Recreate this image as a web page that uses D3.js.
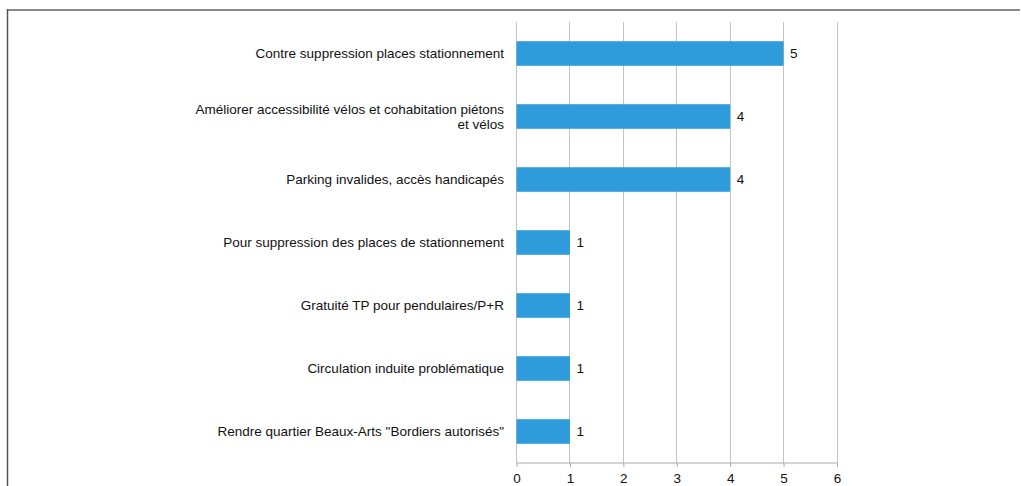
<!DOCTYPE html>
<html>
<head>
<meta charset="utf-8">
<script src="https://cdn.jsdelivr.net/npm/d3@7"></script>
<style>
  html, body { margin: 0; padding: 0; background: #fff; }
  svg { display: block; font-family: "Liberation Sans", Arial, sans-serif; }
</style>
</head>
<body>
<svg id="chart" width="1021" height="486"></svg>
<script>
// Remarks grouped by theme, with the number of mentions
const categories = [
  "Contre suppression places stationnement",
  "Améliorer accessibilité vélos et cohabitation piétons et vélos",
  "Parking invalides, accès handicapés",
  "Pour suppression des places de stationnement",
  "Gratuité TP pour pendulaires/P+R",
  "Circulation induite problématique",
  "Rendre quartier Beaux-Arts \"Bordiers autorisés\""
];
const counts = [5, 4, 4, 1, 1, 1, 1];
const xTicks = [0, 1, 2, 3, 4, 5, 6];

(function () {
  const svg = d3.select("#chart");
  const W = 1021, H = 486;
  const fontSize = 13.5;

  // Frame lines along the top and left edges
  svg.append("line").attr("x1", 7).attr("x2", 1020).attr("y1", 10).attr("y2", 10)
    .attr("stroke", "#8a8a8a").attr("stroke-width", 2);
  svg.append("line").attr("x1", 7.5).attr("x2", 7.5).attr("y1", 9).attr("y2", H)
    .attr("stroke", "#555").attr("stroke-width", 1.5);

  const plotLeft = 516, plotRight = 836.5, plotTop = 22, plotBottom = 463;

  const x = d3.scaleLinear().domain([0, 6]).range([plotLeft, plotRight]);
  const y = d3.scaleBand().domain(categories).range([plotTop, plotBottom])
    .paddingInner(0.61).paddingOuter(0.305);

  // Vertical gridlines
  svg.append("g").selectAll("line").data(xTicks).join("line")
    .attr("x1", d => Math.round(x(d)) + 0.5).attr("x2", d => Math.round(x(d)) + 0.5)
    .attr("y1", plotTop).attr("y2", plotBottom)
    .attr("stroke", "#c4c4c4").attr("stroke-width", 1);

  // Bars
  svg.append("g").selectAll("rect").data(counts).join("rect")
    .attr("x", x(0) + 0.5)
    .attr("y", (d, i) => y(categories[i]))
    .attr("width", d => x(d) - x(0))
    .attr("height", y.bandwidth())
    .attr("fill", "#2e9bda");

  // Value labels
  svg.append("g").selectAll("text").data(counts).join("text")
    .attr("x", d => x(d) + 7)
    .attr("y", (d, i) => y(categories[i]) + y.bandwidth() / 2)
    .attr("dy", "0.35em")
    .attr("font-size", fontSize)
    .attr("fill", "#111")
    .text(d => d);

  // Bottom axis
  const xAxis = d3.axisBottom(x).tickValues(xTicks).tickSize(4).tickPadding(6).tickFormat(d3.format("d"));
  const gx = svg.append("g").attr("transform", `translate(0.5,${plotBottom})`).call(xAxis);
  gx.select(".domain").attr("stroke", "#aaa").attr("d", `M${plotLeft},0H${plotRight}`);
  gx.selectAll(".tick line").attr("stroke", "#aaa");
  gx.selectAll(".tick text").attr("font-size", fontSize).attr("fill", "#111")
    .attr("font-family", "Liberation Sans, Arial, sans-serif");

  // Category labels, wrapped to a maximum width and right aligned
  const maxW = 312;
  const labels = svg.append("g").selectAll("text").data(categories).join("text")
    .attr("text-anchor", "end")
    .attr("font-size", fontSize)
    .attr("fill", "#111");
  labels.each(function (d) {
    const t = d3.select(this);
    const words = d.split(" ");
    const lines = [];
    let cur = [];
    const probe = t.append("tspan");
    words.forEach(w => {
      cur.push(w);
      probe.text(cur.join(" "));
      if (probe.node().getComputedTextLength() > maxW && cur.length > 1) {
        cur.pop();
        lines.push(cur.join(" "));
        cur = [w];
      }
    });
    lines.push(cur.join(" "));
    probe.remove();
    const lh = 15;
    const cy = y(d) + y.bandwidth() / 2;
    lines.forEach((ln, k) => {
      t.append("tspan")
        .attr("x", plotLeft - 12)
        .attr("y", cy + (k - (lines.length - 1) / 2) * lh)
        .attr("dy", "0.35em")
        .text(ln);
    });
  });
})();
</script>
</body>
</html>
